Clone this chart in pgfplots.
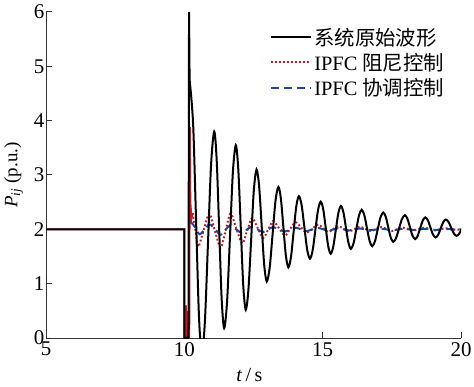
\documentclass[border=0pt]{standalone}
\usepackage{fontspec}
\setmainfont{Liberation Serif}
\newfontfamily\tnr{Liberation Serif}
\newfontfamily\cjk{Noto Sans CJK SC}
\usepackage{pgfplots}
\pgfplotsset{compat=1.18}
\definecolor{myred}{RGB}{200,25,40}
\definecolor{myblue}{RGB}{35,70,150}
\begin{document}
\begin{tikzpicture}
\begin{axis}[
 scale only axis, width=415bp, height=326bp,
 xmin=5, xmax=20, ymin=0, ymax=6,
 xtick={5,10,15,20}, ytick={0,1,2,3,4,5,6},
 xticklabels={{\tnr 5},{\tnr 10},{\tnr 15},{\tnr 20}},
 yticklabels={{\tnr 0},{\tnr 1},{\tnr 2},{\tnr 3},{\tnr 4},{\tnr 5},{\tnr 6}},
 axis x line*=bottom, axis y line*=left,
 axis line style={line width=1bp, black!80, -},
 tick align=inside, major tick length=6bp,
 tick style={line width=1bp, black!80},
 tick label style={font=\tnr\fontsize{21}{24}\selectfont},
 yticklabel style={inner sep=1.5bp},
 xticklabel style={inner sep=4bp},
 xlabel={\textit{t}\,/\,s},
 ylabel={\textit{P}\textsubscript{\textit{ij}} (p.u.)},
 xlabel style={font=\fontsize{20}{24}\selectfont, at={(axis description cs:0.49,-0.113)}, anchor=center},
 ylabel style={font=\fontsize{19}{22}\selectfont, at={(axis description cs:-0.078,0.5)}, anchor=center},
 legend style={draw=none, fill=none, at={(rel axis cs:0.54,0.958)}, anchor=north west,
   font=\fontsize{20.5}{24}\selectfont, inner sep=0pt, row sep=2.5bp},
 legend cell align=left,
 legend image code/.code={\draw[#1] (0bp,0bp) -- (40bp,0bp);},
 clip=true,
]
\addlegendimage{black, line width=2bp}
\addlegendentry{{\cjk 系统原始波形}}
\addlegendimage{myred, line width=2bp, dash pattern=on 1.8bp off 2.2bp}
\addlegendentry{IPFC {\cjk 阻尼控制}}
\addlegendimage{myblue, line width=2bp, dash pattern=on 8bp off 5bp}
\addlegendentry{IPFC {\cjk 协调控制}}

% red (IPFC damping control)
\addplot[myred, line width=1.8bp, forget plot] coordinates {
(5,2)(10.0,2)(10.0,0)(10.04,0)(10.06,0.6)(10.08,0)(10.11,0.5)(10.13,0)(10.18,0)(10.2,3.88)(10.22,2.5)(10.26,2.2)(10.30,2.30)};
\addplot[myred, line width=2bp, dash pattern=on 1.8bp off 2.2bp, smooth, forget plot] coordinates {
(10.30,2.30)(10.40,1.99)(10.50,1.68)(10.70,1.985)(10.90,2.29)(11.105,1.975)(11.31,1.66)(11.49,1.975)(11.67,2.29)(11.88,2.015)(12.09,1.74)(12.27,1.975)(12.45,2.21)(12.65,2.025)(12.85,1.84)(13.03,1.995)(13.21,2.15)(13.425,2.02)(13.64,1.89)(13.83,2.01)(14.02,2.13)(14.22,2.035)(14.42,1.94)(14.63,2.015)(14.84,2.09)(15.02,2.02)(15.20,1.95)(15.38,2.005)(15.56,2.06)(15.755,2.01)(15.95,1.96)(16.145,2.005)(16.34,2.05)(16.535,2.01)(16.73,1.97)(16.925,2.005)(17.12,2.04)(17.315,2.005)(17.51,1.97)(17.705,2.0)(17.90,2.03)(18.095,2.005)(18.29,1.98)(18.485,2.005)(18.68,2.03)(18.875,2.005)(19.07,1.98)(19.265,2.0)(19.46,2.02)(19.655,2.005)(19.85,1.99)(20.05,2.01)};

% blue (IPFC coordinated control)
\addplot[myblue, line width=2bp, dash pattern=on 8bp off 5bp, smooth, forget plot] coordinates {
(10.22,2.15)(10.40,2.03)(10.55,1.91)(10.735,2.0)(10.92,2.09)(11.115,2.0)(11.31,1.90)(11.48,1.985)(11.65,2.07)(11.87,2.0)(12.09,1.93)(12.255,1.99)(12.42,2.05)(12.635,2.0)(12.85,1.95)(13.03,2.0)(13.21,2.04)(13.425,2.0)(13.64,1.96)(13.83,1.995)(14.02,2.03)(14.22,2.0)(14.42,1.97)(14.63,1.997)(14.84,2.025)(15.02,2.0)(15.20,1.975)(15.38,1.997)(15.56,2.02)(15.755,2.0)(15.95,1.98)(16.145,1.997)(16.34,2.015)(16.535,2.0)(16.73,1.985)(16.925,1.997)(17.12,2.01)(17.315,1.998)(17.51,1.985)(17.705,1.997)(17.90,2.01)(18.095,2.0)(18.29,1.99)(18.485,2.0)(18.68,2.01)(18.875,2.0)(19.07,1.99)(19.265,1.997)(19.46,2.005)(19.655,2.0)(19.85,1.995)(20.05,2.0)};

% black (original system waveform)
\addplot[black, line width=2bp, forget plot] coordinates {
(5,2)(10.0,2)(10.0,0)(10.15,0)(10.17,6.0)(10.19,4.75)(10.22,4.6)};
\addplot[black, line width=2bp, smooth, forget plot] coordinates {
(10.22,4.6)(10.3225,3.882)(10.425,2.15)(10.5275,0.418)
(10.63,-0.3)(10.7425,0.301)(10.855,1.75)(10.9675,3.199)
(11.08,3.80)(11.17,3.27)(11.26,1.99)(11.35,0.71)
(11.44,0.18)(11.545,0.674)(11.65,1.865)(11.755,3.056)
(11.86,3.55)(11.95,3.106)(12.04,2.035)(12.13,0.964)
(12.22,0.52)(12.3175,0.898)(12.415,1.81)(12.5125,2.722)
(12.61,3.10)(12.7025,2.798)(12.795,2.07)(12.8875,1.342)
(12.98,1.04)(13.085,1.295)(13.19,1.91)(13.295,2.525)
(13.40,2.78)(13.49,2.563)(13.58,2.04)(13.67,1.517)
(13.76,1.30)(13.855,1.492)(13.95,1.955)(14.045,2.418)
(14.14,2.61)(14.24,2.442)(14.34,2.035)(14.44,1.628)
(14.54,1.46)(14.6375,1.614)(14.735,1.985)(14.8325,2.356)
(14.93,2.51)(15.02,2.369)(15.11,2.03)(15.20,1.691)
(15.29,1.55)(15.3825,1.679)(15.475,1.99)(15.5675,2.301)
(15.66,2.43)(15.75,2.314)(15.84,2.035)(15.93,1.756)
(16.02,1.64)(16.1175,1.745)(16.215,2.0)(16.3125,2.255)
(16.41,2.36)(16.505,2.262)(16.60,2.025)(16.695,1.788)
(16.79,1.69)(16.89,1.781)(16.99,2.0)(17.09,2.219)
(17.19,2.31)(17.28,2.231)(17.37,2.04)(17.46,1.849)
(17.55,1.77)(17.655,1.842)(17.76,2.015)(17.865,2.188)
(17.97,2.26)(18.0625,2.196)(18.155,2.04)(18.2475,1.884)
(18.34,1.82)(18.4325,1.879)(18.525,2.02)(18.6175,2.161)
(18.71,2.22)(18.8025,2.166)(18.895,2.035)(18.9875,1.904)
(19.08,1.85)(19.1725,1.898)(19.265,2.015)(19.3575,2.132)
(19.45,2.18)(19.5475,2.136)(19.645,2.03)(19.7425,1.924)
(19.84,1.88)(19.935,1.92)(20.03,2.015)};
\end{axis}
\pgfresetboundingbox
\path[use as bounding box] ([xshift=-46bp,yshift=-49bp]current axis.south west) rectangle ([xshift=13bp,yshift=12bp]current axis.north east);
\end{tikzpicture}
\end{document}
